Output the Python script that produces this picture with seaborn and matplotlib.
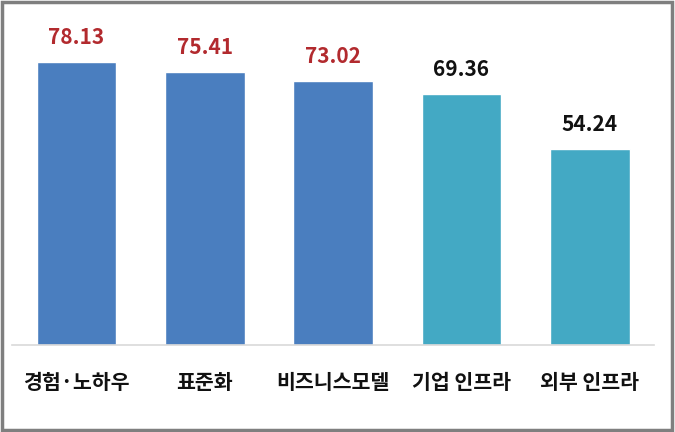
import matplotlib
matplotlib.use("Agg")
import matplotlib.pyplot as plt
import seaborn as sns
import pandas as pd
from matplotlib.patches import Rectangle

categories = ['경험·노하우', '표준화', '비즈니스모델', '기업 인프라', '외부 인프라']
scores = [78.13, 75.41, 73.02, 69.36, 54.24]
bar_colors = ['#4A7EBF', '#4A7EBF', '#4A7EBF', '#43A9C4', '#43A9C4']
label_colors = ['#B22A2E', '#B22A2E', '#B22A2E', '#111111', '#111111']

df = pd.DataFrame({'category': categories, 'score': scores})

sns.set_theme(style='white')
plt.rcParams['font.family'] = ['Noto Sans CJK KR', 'DejaVu Sans']

fig = plt.figure(figsize=(6.75, 4.32), dpi=100)
ax = fig.add_axes([0.018, 0.201, 0.951, 0.755])
sns.barplot(data=df, x='category', y='score', hue='category', palette=bar_colors,
            legend=False, width=0.62, saturation=1, ax=ax)

ax.set_ylim(0, 90)
ax.set_xlim(-0.5, 4.5)
for i, (v, c) in enumerate(zip(scores, label_colors)):
    ax.annotate(f'{v:.2f}', (i, v), xytext=(0, 10), textcoords='offset points',
                ha='center', va='bottom', fontsize=15, fontweight='bold', color=c)

ax.set_xlabel('')
ax.set_ylabel('')
ax.set_yticks([])
ax.tick_params(axis='x', length=0, pad=19, labelsize=14.8, colors='#111111')
for lbl in ax.get_xticklabels():
    lbl.set_fontweight('bold')
for s in ['top', 'left', 'right']:
    ax.spines[s].set_visible(False)
ax.spines['bottom'].set_color('#d9d9d9')
ax.spines['bottom'].set_linewidth(1.2)

# outer frame
fig.patches.append(Rectangle((0.003, 0.004), 0.993, 0.991, transform=fig.transFigure,
                             fill=False, edgecolor='#7f7f7f', linewidth=2.5))

fig.savefig('out.png', dpi=100)
